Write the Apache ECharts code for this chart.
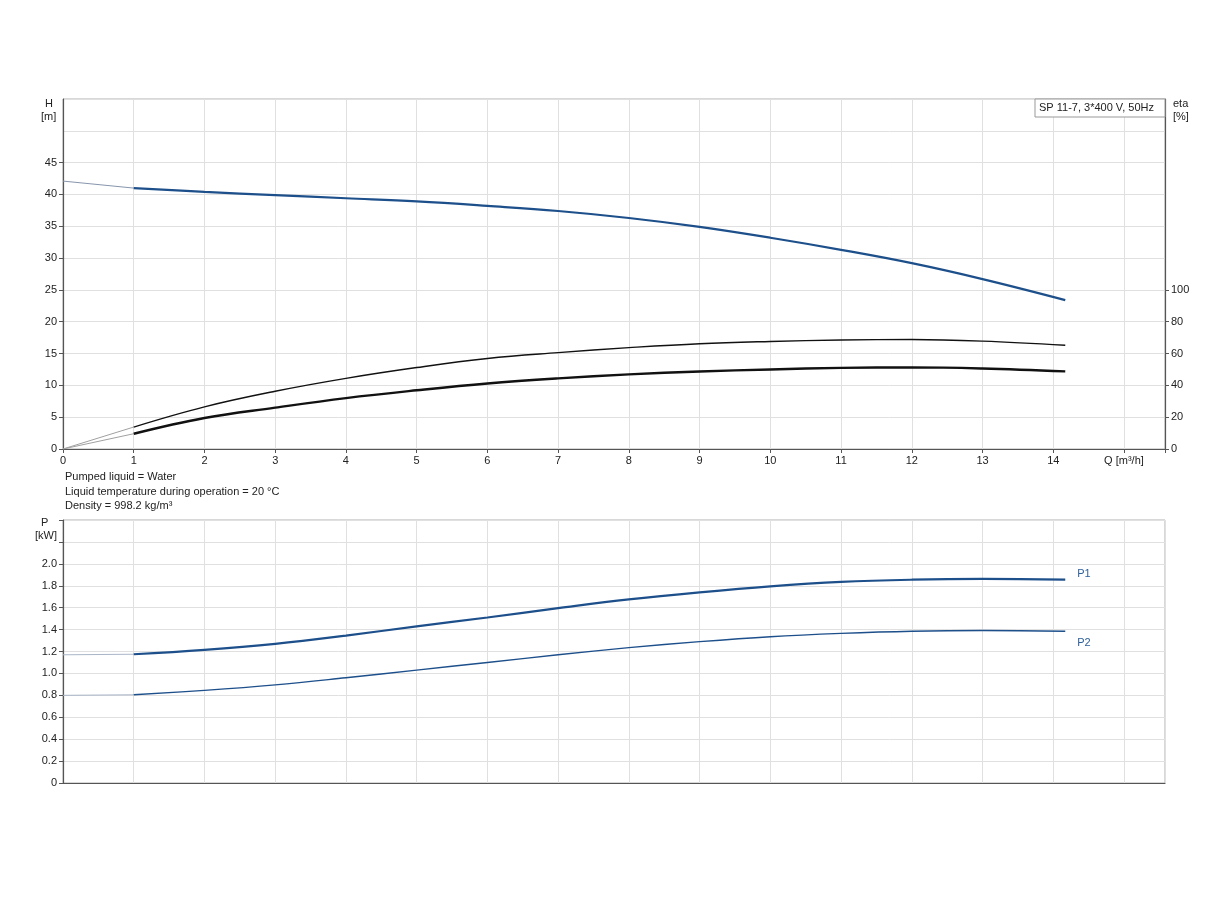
<!DOCTYPE html>
<html>
<head>
<meta charset="utf-8">
<script src="https://cdn.jsdelivr.net/npm/echarts@6/dist/echarts.min.js"></script>
<style>html,body{margin:0;padding:0;background:#fff}#c{width:1224px;height:900px}</style>
</head>
<body>
<div id="c"></div>
<script>
// Flow rate Q [m³/h]
const q = [1, 2, 3, 4, 5, 6, 7, 8, 9, 10, 11, 12, 13, 14.17];
// Head H [m]
const head = [41.0, 40.4, 39.9, 39.4, 38.9, 38.2, 37.4, 36.3, 34.9, 33.2, 31.3, 29.2, 26.7, 23.4];
// Efficiency curves eta [%]
const etaUpper = [13.8, 26.5, 36.3, 44.4, 51.2, 56.9, 60.6, 63.7, 66.2, 67.6, 68.5, 68.8, 67.8, 65.2];
const etaLower = [9.6, 19.5, 26.0, 32.0, 36.9, 41.2, 44.4, 46.9, 48.7, 50.0, 51.0, 51.3, 50.6, 48.8];
// Power P [kW]
const p1 = [1.175, 1.215, 1.27, 1.345, 1.43, 1.51, 1.595, 1.675, 1.74, 1.795, 1.835, 1.855, 1.862, 1.855];
const p2 = [0.805, 0.845, 0.895, 0.96, 1.03, 1.10, 1.17, 1.235, 1.29, 1.335, 1.365, 1.385, 1.392, 1.385];
// Extensions from Q = 0 to first point
const qExt = [0, 1];
const headExt = [42.1, 41.0];
const etaUpperExt = [0, 13.8];
const etaLowerExt = [0, 9.6];
const p1Ext = [1.17, 1.175];
const p2Ext = [0.80, 0.805];
// Tick values
const hTicks = [0, 5, 10, 15, 20, 25, 30, 35, 40, 45];
const etaTicks = [0, 20, 40, 60, 80, 100];
const legendText = 'SP 11-7, 3*400 V, 50Hz';
const infoLines = ['Pumped liquid = Water', 'Liquid temperature during operation = 20 °C', 'Density = 998.2 kg/m³'];

const zip = (a, b) => a.map((v, i) => [v, b[i]]);
const FONT = 'Liberation Sans, Arial, sans-serif';
const BLUE = '#1d4f8b';
const gridLine = {show: true, lineStyle: {color: '#e0e0e0', width: 1}};
const axisLine = {show: true, lineStyle: {color: '#555', width: 1.2}};
const lbl = {fontFamily: FONT, fontSize: 11, color: '#222'};
const XMAX = 15.58;

const chart = echarts.init(document.getElementById('c'), null, {renderer: 'canvas'});
chart.setOption({
  animation: false,
  backgroundColor: '#fff',
  grid: [
    {left: 63, top: 99, width: 1102, height: 350, show: true, borderColor: '#b0b0b0', borderWidth: 1},
    {left: 63, top: 520, width: 1102, height: 263, show: true, borderColor: '#b0b0b0', borderWidth: 1}
  ],
  xAxis: [
    {type: 'value', gridIndex: 0, min: 0, max: XMAX, interval: 1,
      axisLine: axisLine, axisTick: {show: true, length: 4, lineStyle: {color: '#555'}},
      splitLine: gridLine,
      axisLabel: Object.assign({}, lbl, {margin: 6, formatter: v => v === 15 ? 'Q [m³/h]' : (Number.isInteger(v) ? String(v) : '')})},
    {type: 'value', gridIndex: 1, min: 0, max: XMAX, interval: 1,
      axisLine: axisLine, axisTick: {show: false}, splitLine: gridLine, axisLabel: {show: false}}
  ],
  yAxis: [
    {type: 'value', gridIndex: 0, min: 0, max: 55, interval: 5, position: 'left',
      axisLine: axisLine, axisTick: {show: true, length: 4, customValues: hTicks, lineStyle: {color: '#555'}},
      splitLine: {show: false},
      axisLabel: Object.assign({}, lbl, {margin: 6, customValues: hTicks, formatter: v => v <= 45 ? String(v) : ''})},
    {type: 'value', gridIndex: 0, min: 0, max: 220, interval: 20, position: 'right',
      axisLine: axisLine, axisTick: {show: true, length: 4, customValues: etaTicks, lineStyle: {color: '#555'}},
      splitLine: {show: false},
      axisLabel: Object.assign({}, lbl, {margin: 6, customValues: etaTicks, formatter: v => v <= 100 ? String(v) : ''})},
    {type: 'value', gridIndex: 1, min: 0, max: 2.4, interval: 0.2, position: 'left',
      axisLine: axisLine, axisTick: {show: true, length: 4, lineStyle: {color: '#555'}},
      splitLine: gridLine,
      axisLabel: Object.assign({}, lbl, {margin: 6, formatter: v => v === 0 ? '0' : (v > 2.01 ? '' : v.toFixed(1))})},
    {type: 'value', gridIndex: 0, min: 0, max: 55, interval: 5, position: 'left',
      axisLine: {show: false}, axisTick: {show: false}, axisLabel: {show: false},
      splitLine: gridLine, z: 0}
  ],
  series: [
    {type: 'line', xAxisIndex: 0, yAxisIndex: 0, data: zip(qExt, headExt), showSymbol: false, lineStyle: {color: '#8796ad', width: 1}},
    {type: 'line', xAxisIndex: 0, yAxisIndex: 0, data: zip(q, head), smooth: 0.4, showSymbol: false, lineStyle: {color: BLUE, width: 2.2}},
    {type: 'line', xAxisIndex: 0, yAxisIndex: 1, data: zip(qExt, etaUpperExt), showSymbol: false, lineStyle: {color: '#a0a0a0', width: 1}},
    {type: 'line', xAxisIndex: 0, yAxisIndex: 1, data: zip(qExt, etaLowerExt), showSymbol: false, lineStyle: {color: '#a0a0a0', width: 1}},
    {type: 'line', xAxisIndex: 0, yAxisIndex: 1, data: zip(q, etaUpper), smooth: 0.4, showSymbol: false, lineStyle: {color: '#111', width: 1.4}},
    {type: 'line', xAxisIndex: 0, yAxisIndex: 1, data: zip(q, etaLower), smooth: 0.4, showSymbol: false, lineStyle: {color: '#111', width: 2.4}},
    {type: 'line', xAxisIndex: 1, yAxisIndex: 2, data: zip(qExt, p1Ext), showSymbol: false, lineStyle: {color: '#a9b6c8', width: 1}},
    {type: 'line', xAxisIndex: 1, yAxisIndex: 2, data: zip(qExt, p2Ext), showSymbol: false, lineStyle: {color: '#a9b6c8', width: 1}},
    {type: 'line', xAxisIndex: 1, yAxisIndex: 2, data: zip(q, p1), smooth: 0.4, showSymbol: false, lineStyle: {color: BLUE, width: 2.2},
      endLabel: {show: true, formatter: 'P1', fontFamily: FONT, fontSize: 11, color: '#2f5f9a', offset: [4, -6]}},
    {type: 'line', xAxisIndex: 1, yAxisIndex: 2, data: zip(q, p2), smooth: 0.4, showSymbol: false, lineStyle: {color: BLUE, width: 1.4},
      endLabel: {show: true, formatter: 'P2', fontFamily: FONT, fontSize: 11, color: '#2f5f9a', offset: [4, 12]}}
  ],
  graphic: [
    {type: 'text', left: 45, top: 98, style: {text: 'H', font: '11px ' + FONT, fill: '#222'}},
    {type: 'text', left: 41, top: 111, style: {text: '[m]', font: '11px ' + FONT, fill: '#222'}},
    {type: 'text', left: 1173, top: 98, style: {text: 'eta', font: '11px ' + FONT, fill: '#222'}},
    {type: 'text', left: 1173, top: 111, style: {text: '[%]', font: '11px ' + FONT, fill: '#222'}},
    {type: 'rect', shape: {x: 1035, y: 99, width: 130, height: 18}, style: {fill: '#fff', stroke: '#999', lineWidth: 1}, z: 10},
    {type: 'text', left: 1039, top: 102, z: 11, style: {text: legendText, font: '11px ' + FONT, fill: '#222'}},
    {type: 'text', left: 65, top: 471, style: {text: infoLines[0], font: '11px ' + FONT, fill: '#222'}},
    {type: 'text', left: 65, top: 486, style: {text: infoLines[1], font: '11px ' + FONT, fill: '#222'}},
    {type: 'text', left: 65, top: 500, style: {text: infoLines[2], font: '11px ' + FONT, fill: '#222'}},
    {type: 'text', left: 41, top: 517, style: {text: 'P', font: '11px ' + FONT, fill: '#222'}},
    {type: 'text', left: 35, top: 530, style: {text: '[kW]', font: '11px ' + FONT, fill: '#222'}}
  ]
});
</script>
</body>
</html>
